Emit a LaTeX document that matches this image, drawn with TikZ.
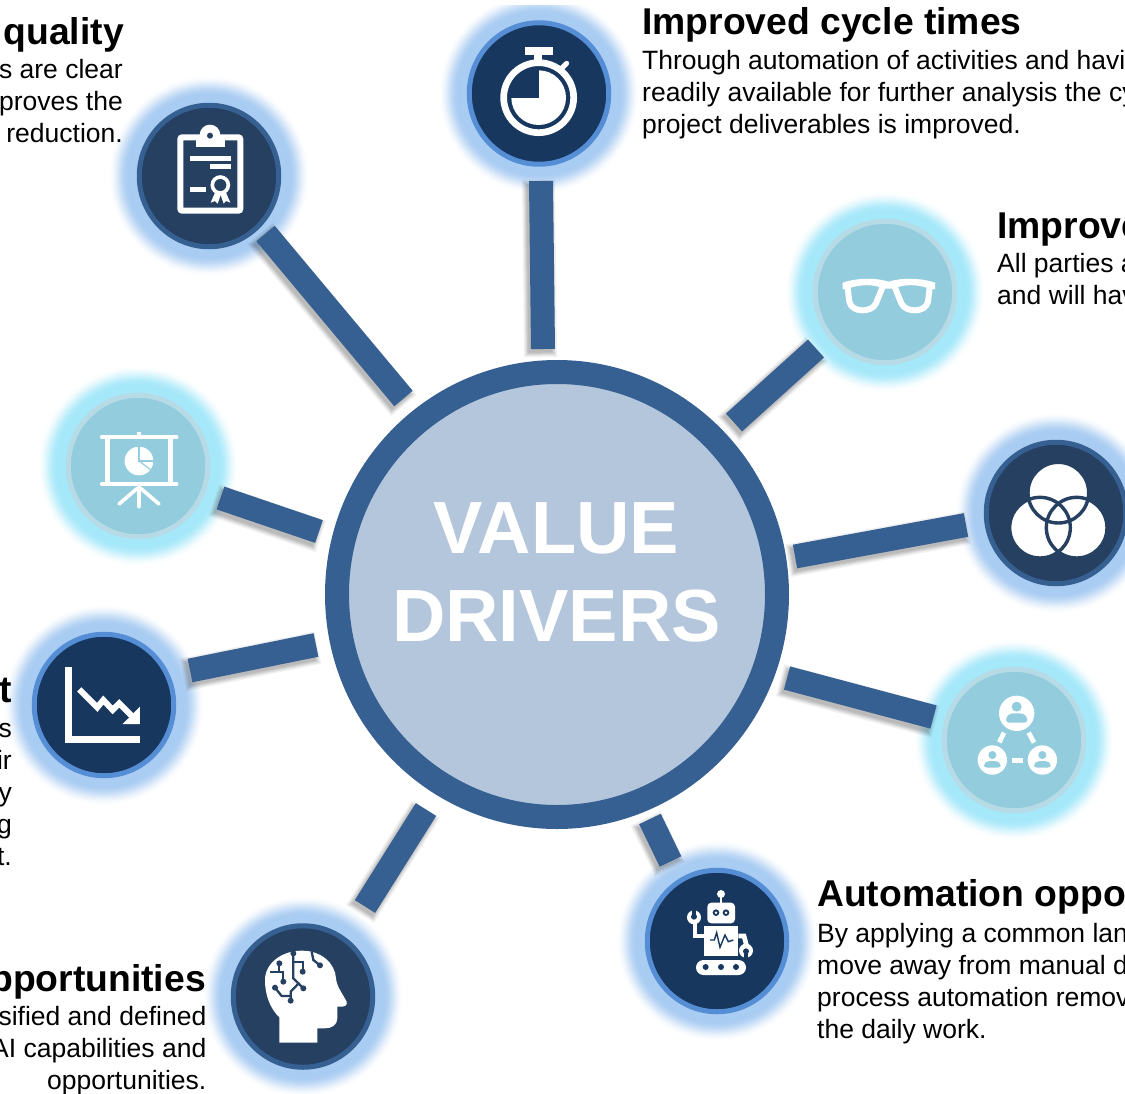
\documentclass[tikz,border=0pt]{standalone}
\usepackage{fontspec}
\usetikzlibrary{shapes.geometric}
\setmainfont{Liberation Sans}
\definecolor{barblue}{HTML}{376092}
\definecolor{hubfill}{HTML}{B3C6DC}
\definecolor{darka}{HTML}{17375E}
\definecolor{darkb}{HTML}{254061}
\definecolor{rima}{HTML}{558ED5}
\definecolor{rimb}{HTML}{376092}
\definecolor{lightf}{HTML}{93CDDD}
\definecolor{lightr}{HTML}{B7DBE6}
\definecolor{glowblue}{HTML}{A9CCF2}
\definecolor{glowcyan}{HTML}{A5E8FA}
\tikzset{
  spokebase/.style={ellipse,minimum width=139.5pt,minimum height=141.5pt,inner sep=0pt,outer sep=0pt,line width=5pt},
  spokea/.style={spokebase,draw=rima,fill=darka},
  spokeb/.style={spokebase,draw=rimb,fill=darkb},
  spokec/.style={spokebase,draw=lightr,fill=lightf},
  connector/.style={line width=24pt,draw=barblue},
  head/.style={inner sep=0pt,font=\fontsize{37.3}{44}\selectfont\bfseries},
  bodyl/.style={inner sep=0pt,align=left,anchor=north west,font=\fontsize{26.5}{32}\selectfont},
  bodyr/.style={inner sep=0pt,align=right,anchor=north east,font=\fontsize{26.5}{32}\selectfont},
  hubword/.style={inner sep=0pt,text=white,anchor=base,font=\fontsize{74}{88}\selectfont\bfseries},
  zoomat/.style 2 args={shift={(#1,#2)},x=.33333pt,y=-.33333pt},
}
\newcommand{\firstline}{\rule{0pt}{20pt}}
% soft halo: concentric discs running from white out to the halo colour
\newcommand{\halo}[2]{%
  \foreach \s in {0,...,20}{%
    \pgfmathsetmacro{\hr}{101-\s}%
    \pgfmathsetmacro{\hp}{100*(3*(\s/20)^2-2*(\s/20)^3)}%
    \fill[#2!\hp!white] (#1) circle (\hr);}}
\newcommand{\barshadow}[2]{%
  \foreach \w/\k in {33/4.5,30/3,28/2,26/1,24/0}{%
    \draw[line width=\w pt,black,opacity=.06,shorten <=-\k pt,shorten >=-\k pt,transform canvas={shift={(-2.5pt,-3.5pt)}}] (#1) -- (#2);}%
  \draw[connector] (#1) -- (#2);}
\begin{document}
\begin{tikzpicture}[x=1pt,y=-1pt]
\useasboundingbox (0,0) rectangle (1125,1093);
\clip (0,0) rectangle (1125,1093);
\fill[white] (0,0) rectangle (1125,1093);
% centres
\coordinate (c1) at (539,93.5);
\coordinate (c2) at (209,176);
\coordinate (c3) at (138,466);
\coordinate (c4) at (104,705);
\coordinate (c5) at (303,996.5);
\coordinate (c6) at (717,941);
\coordinate (c7) at (1014,740);
\coordinate (c8) at (1056,513);
\coordinate (c9) at (885,292);
% glows
\begin{scope}
\clip (0,5) rectangle (1125,1093);
\halo{c1}{glowblue}
\end{scope}
\halo{c2}{glowblue}\halo{c3}{glowcyan}\halo{c4}{glowblue}\halo{c5}{glowblue}\halo{c6}{glowblue}\halo{c7}{glowcyan}\halo{c8}{glowblue}\halo{c9}{glowcyan}
% connectors
\coordinate (a1) at (541,181); \coordinate (b1) at (543,349);
\coordinate (a2) at (265.5,233.5); \coordinate (b2) at (403.5,398.5);
\coordinate (a3) at (220.5,498); \coordinate (b3) at (319,531.5);
\coordinate (a4) at (190,670.5); \coordinate (b4) at (316,645);
\coordinate (a5) at (426,809.5); \coordinate (b5) at (365,906.5);
\coordinate (a6) at (650,819); \coordinate (b6) at (670.5,861.5);
\coordinate (a7) at (787,678); \coordinate (b7) at (933.5,717);
\coordinate (a8) at (795,556.5); \coordinate (b8) at (966,525);
\coordinate (a9) at (734,422.5); \coordinate (b9) at (816,348.5);
\barshadow{a1}{b1}\barshadow{a2}{b2}\barshadow{a3}{b3}\barshadow{a4}{b4}\barshadow{a5}{b5}\barshadow{a6}{b6}\barshadow{a7}{b7}\barshadow{a8}{b8}\barshadow{a9}{b9}
% hub
\node[ellipse,minimum width=440pt,minimum height=445pt,inner sep=0pt,outer sep=0pt,line width=24pt,draw=barblue,fill=hubfill] (hub) at (557,594.5) {};
\node[hubword] (hubtop) at (556.5,553) {VALUE};
\node[hubword] (hubbot) at (556.5,641) {DRIVERS};
% spokes
\node[spokea] (n1) at (c1) {};
\node[spokeb] (n2) at (c2) {};
\node[spokec] (n3) at (c3) {};
\node[spokea] (n4) at (c4) {};
\node[spokeb] (n5) at (c5) {};
\node[spokea] (n6) at (c6) {};
\node[spokec] (n7) at (c7) {};
\node[spokeb] (n8) at (c8) {};
\node[spokec] (n9) at (c9) {};
% icon stopwatch
\begin{scope}[zoomat={440}{0}]
\fill[white] (255,142) rectangle (338,165);
\fill[white] (283,165) rectangle (305,195);
\draw[white,line width=5pt,line cap=round] (360,210) -- (380,190);
\fill[white] (296,293) circle (82);
\fill[darka] (296,293) rectangle (205,205);
\draw[white,line width=6.7pt] (296,293) circle (105);
\end{scope}
% icon clipboard
\begin{scope}[zoomat={100}{70}]
\draw[white,line width=6pt,rounded corners=2pt] (241,202) rectangle (421,422);
\fill[white] (330,195) circle (31);
\fill[white] (287,205) rectangle (375,232);
\fill[darkb] (330,197) circle (9);
\fill[white] (270,258) rectangle (393,272);
\fill[white] (330,282) rectangle (393,297);
\fill[white] (270,351) rectangle (318,367);
\draw[white,line width=3.6pt] (361,345) circle (24);
\fill[white] (345,368) -- (332,398) -- (345,393) -- (353,401) -- (362,375) -- (371,401) -- (378,393) -- (391,398) -- (378,368) -- cycle;
\end{scope}
% icon presentation
\begin{scope}[zoomat={50}{390}]
\draw[white,line width=3.6pt,line cap=round] (155,141) -- (380,141);
\draw[white,line width=3.6pt,line cap=round] (155,282) -- (380,282);
\draw[white,line width=3.3pt] (267,125) -- (267,141);
\draw[white,line width=5.5pt] (172,141) -- (172,282);
\draw[white,line width=5.5pt] (361,141) -- (361,282);
\draw[white,line width=3.6pt,line cap=round] (267,290) -- (267,350);
\draw[white,line width=3.6pt,line cap=round] (262,295) -- (207,342);
\draw[white,line width=3.6pt,line cap=round] (272,295) -- (327,342);
\fill[white] (267,213) circle (43);
\draw[lightf,line width=1.2pt] (267,165) -- (267,213) -- (315,213);
\draw[lightf,line width=1.2pt] (267,213) -- (310,245);
\end{scope}
% icon chart
\begin{scope}[zoomat={20}{625}]
\draw[white,line width=7pt] (146,127) -- (146,343.5) -- (360,343.5);
\draw[white,line width=6pt] (178,193) -- (232,247) -- (250,225) -- (278,255) -- (298,235) -- (340,277);
\fill[white] (360,245) -- (360,297) -- (308,297) -- cycle;
\end{scope}
% icon brain
\begin{scope}[zoomat={220}{910}]
\fill[white] (178,398) -- (178,322) .. controls (150,295) and (135,255) .. (135,210) .. controls (135,160) and (185,122) .. (245,122) .. controls (305,122) and (345,160) .. (348,205) .. controls (350,230) and (370,255) .. (380,275) .. controls (383,285) and (375,290) .. (365,290) -- (352,290) -- (352,325) .. controls (352,345) and (335,355) .. (315,355) -- (292,355) -- (292,398) -- cycle;
\begin{scope}[darkb,line width=2.3pt]
\draw (220,130) -- (220,205) -- (250,235);
\draw (220,155) -- (248,155) -- (248,185);
\draw (238,218) -- (212,245) -- (212,272);
\draw (165,233) -- (185,258) -- (212,258);
\draw (150,187) -- (190,187) -- (190,215);
\draw (178,160) -- (178,187);
\draw (275,125) -- (280,150) -- (300,166);
\foreach \p in {(220,130),(250,235),(248,185),(212,272),(165,233),(190,215),(178,160),(300,166)}{\fill \p circle (9);}
\end{scope}
\end{scope}
% icon robot
\begin{scope}[zoomat={620}{860}]
\fill[white] (303,102) circle (12);
\draw[white,line width=2.5pt] (303,102) -- (303,130);
\fill[white,rounded corners=4pt] (262,128) rectangle (345,190);
\foreach \x in {288,318}{\fill[darka] (\x,158) circle (10);\fill[white] (\x,158) circle (4);}
\fill[white] (253,198) rectangle (355,288);
\draw[darka,line width=1.4pt] (270,240) -- (283,240) -- (290,218) -- (300,262) -- (315,225) -- (325,245) -- (340,240);
\fill[white,rounded corners=7.5pt] (228,300) rectangle (378,345);
\foreach \x in {257,303,348}{\fill[darka] (\x,321) circle (9);}
\draw[white,line width=4.7pt] (253,228) -- (225,228) -- (225,175);
\fill[white] (222,172) circle (21);
\fill[darka] (222,170) circle (9);
\fill[darka] (215,150) rectangle (229,170);
\draw[white,line width=4.7pt] (355,228) -- (372,228) -- (380,258);
\fill[white] (378,272) circle (21);
\fill[darka] (378,274) circle (9);
\fill[darka] (371,274) rectangle (385,294);
\end{scope}
% icon people
\begin{scope}[zoomat={920}{660}]
\fill[white] (290,160) circle (53);
\fill[white] (217,300) circle (44);
\fill[white] (367,300) circle (44);
\fill[lightf] (290,140) circle (15);
\fill[lightf,rounded corners=3pt] (258,188) -- (258,172) -- (270,160) -- (310,160) -- (322,172) -- (322,188) -- cycle;
\foreach \x in {217,367}{
\fill[lightf] (\x,285) circle (12);
\fill[lightf,rounded corners=3pt] (\x-25,323) -- (\x-25,312) -- (\x-15,303) -- (\x+15,303) -- (\x+25,312) -- (\x+25,323) -- cycle;}
\draw[white,line width=4.7pt] (252,218) -- (238,247);
\draw[white,line width=4.7pt] (326,218) -- (342,248);
\draw[white,line width=4.7pt] (275,302) -- (310,302);
\end{scope}
% icon venn
\begin{scope}[zoomat={970}{430}]
\fill[white] (265,188) circle (91);
\fill[white] (210,293) circle (91);
\fill[white] (320,293) circle (91);
\draw[darkb,line width=3.4pt] (265,188) circle (91);
\draw[darkb,line width=3.4pt] (210,293) circle (91);
\draw[darkb,line width=3.4pt] (320,293) circle (91);
\end{scope}
% icon glasses
\begin{scope}[zoomat={800}{210}]
\fill[white] (128,218) .. controls (170,203) and (230,203) .. (266,215) .. controls (302,203) and (362,203) .. (405,218) -- (405,238) -- (389,236) .. controls (350,222) and (310,222) .. (282,236) -- (250,236) .. controls (222,222) and (182,222) .. (143,236) -- (128,238) -- cycle;
\draw[white,line width=6pt,line join=round] (143,232) -- (148,275) .. controls (155,309) and (215,309) .. (228,280) -- (250,226);
\draw[white,line width=6pt,line join=round] (389,232) -- (384,275) .. controls (377,309) and (317,309) .. (304,280) -- (282,226);
\end{scope}
% texts
\node[head,anchor=base east] (t2h) at (124,44.5) {quality};
\node[bodyr] (t2b) at (123,58.5) {\firstline s are clear\\proves the\\reduction.};
\node[head,anchor=base west] (t1h) at (642,34) {Improved cycle times};
\node[bodyl] (t1b) at (642,49) {\firstline Through automation of activities and havi\\readily available for further analysis the cy\\project deliverables is improved.};
\node[head,anchor=base west] (t9h) at (997,238) {Improve};
\node[bodyl] (t9b) at (997,252) {\firstline All parties a\\and will hav};
\node[head,anchor=base east] (t4h) at (12,702) {t};
\node[bodyr] (t4b) at (12,717) {\firstline s\\ir\\y\\g\\t.};
\node[head,anchor=base east] (t5h) at (206,991) {pportunities};
\node[bodyr] (t5b) at (206.5,1005) {\firstline sified and defined\\AI capabilities and\\opportunities.};
\node[head,anchor=base west] (t6h) at (817,906.5) {Automation oppo};
\node[bodyl] (t6b) at (817,922) {\firstline By applying a common lan\\move away from manual d\\process automation remov\\the daily work.};
\end{tikzpicture}
\end{document}
